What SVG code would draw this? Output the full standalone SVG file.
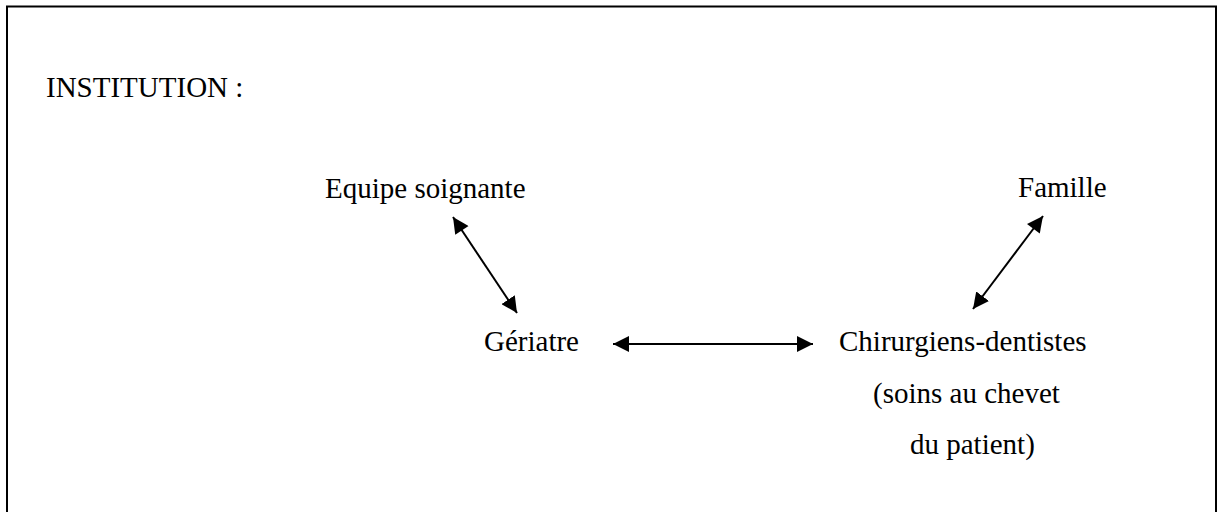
<svg xmlns="http://www.w3.org/2000/svg" width="1217" height="512" viewBox="0 0 1217 512">
  <style>
    .t { font-family: "Liberation Serif", "Times New Roman", serif; font-size: 29px; fill: #000; }
    .c { stroke: #000; stroke-width: 2; fill: none; marker-start: url(#ahs); marker-end: url(#ahe); }
  </style>
  <defs>
    <marker id="ahe" markerUnits="userSpaceOnUse" markerWidth="17" markerHeight="16" refX="16" refY="8" orient="auto">
      <path d="M0,0 L16,8 L0,16 z" fill="#000"/>
    </marker>
    <marker id="ahs" markerUnits="userSpaceOnUse" markerWidth="17" markerHeight="16" refX="0" refY="8" orient="auto">
      <path d="M16,0 L0,8 L16,16 z" fill="#000"/>
    </marker>
  </defs>
  <rect width="1217" height="512" fill="#fff"/>
  <path d="M7,530 L7,6.5 L1216,6.5 L1216,530" fill="none" stroke="#000" stroke-width="2"/>

  <g id="institution"><text class="t" x="46" y="97">INSTITUTION :</text></g>
  <g id="equipe"><text class="t" x="325" y="198">Equipe soignante</text></g>
  <g id="famille"><text class="t" x="1018" y="197">Famille</text></g>
  <g id="geriatre"><text class="t" x="484" y="351">Gériatre</text></g>
  <g id="chirurgiens">
    <text class="t" x="839" y="351">Chirurgiens-dentistes</text>
    <text class="t" x="873" y="403">(soins au chevet</text>
    <text class="t" x="910" y="454">du patient)</text>
  </g>

  <g id="connectors">
    <line class="c" x1="453" y1="217" x2="517" y2="313"/>
    <line class="c" x1="1043" y1="216" x2="973" y2="309"/>
    <line class="c" x1="613" y1="344" x2="813" y2="344"/>
  </g>
</svg>
